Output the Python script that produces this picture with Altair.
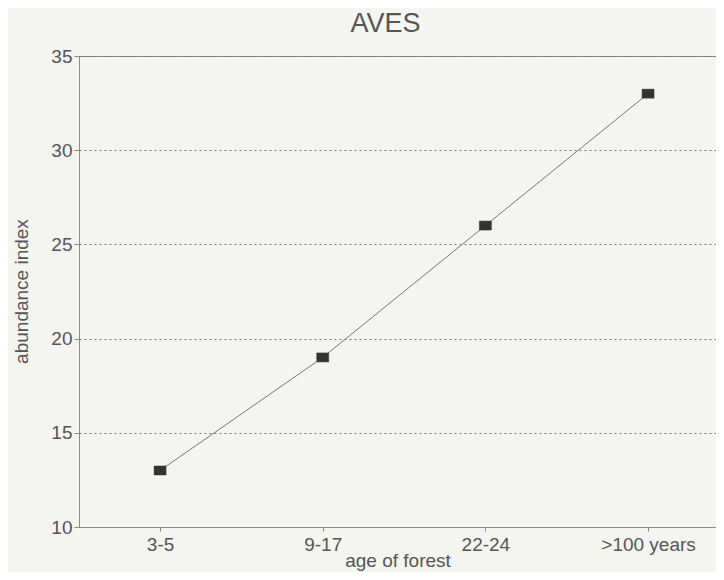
import altair as alt
import pandas as pd

categories = ["3-5", "9-17", "22-24", ">100 years"]
abundance = [13, 19, 26, 33]
y_ticks = [10, 15, 20, 25, 30, 35]

df = pd.DataFrame({"age": categories, "abundance": abundance})

FONT = "Liberation Sans"
TXT = "#555555"
AX = "#8a8a8a"

x = alt.X(
    "age:N",
    sort=categories,
    scale=alt.Scale(type="point", padding=0.458, align=0.544),
    axis=alt.Axis(
        title="age of forest",
        labelAngle=0,
        labelFont=FONT, labelFontSize=19, labelColor=TXT,
        labelPadding=4,
        tickSize=4, tickColor=AX, domainColor=AX,
        titleFont=FONT, titleFontSize=19, titleColor=TXT, titleFontWeight="normal",
        titleY=39, titleBaseline="alphabetic",
        grid=False,
    ),
)
y = alt.Y(
    "abundance:Q",
    scale=alt.Scale(domain=[10, 35], nice=False, zero=False),
    axis=alt.Axis(
        title="abundance index",
        values=y_ticks,
        labelFont=FONT, labelFontSize=19, labelColor=TXT,
        labelPadding=2,
        tickSize=5, tickColor=AX, domainColor=AX,
        grid=True, gridColor="#777777", gridDash=[2, 3], gridWidth=1,
        titleFont=FONT, titleFontSize=19, titleColor=TXT, titleFontWeight="normal",
        titleX=-58, titleY=235, titleBaseline="middle",
    ),
)

base = alt.Chart(df).encode(x=x, y=y)

line = base.mark_line(color="#777777", strokeWidth=1)
pts = base.mark_point(
    shape="M-1.2,-0.9L1.2,-0.9L1.2,0.9L-1.2,0.9Z",
    size=100, filled=True, fill="#333333", stroke="#333333", strokeWidth=0.5, opacity=1,
)

chart = (
    alt.layer(line, pts)
    .properties(
        width=637,
        height=471,
        title=alt.TitleParams(
            "AVES", font=FONT, fontSize=27, color=TXT, fontWeight="normal",
            anchor="middle", dx=-12, offset=9,
        ),
        autosize=alt.AutoSizeParams(type="none"),
        padding={"left": 71, "top": 48, "right": 0, "bottom": 45},
        background="#f4f4f1",
    )
    .configure_view(stroke=AX, strokeWidth=1)
)

chart.save("out.html", embed_options={"renderer": "svg", "actions": False})
